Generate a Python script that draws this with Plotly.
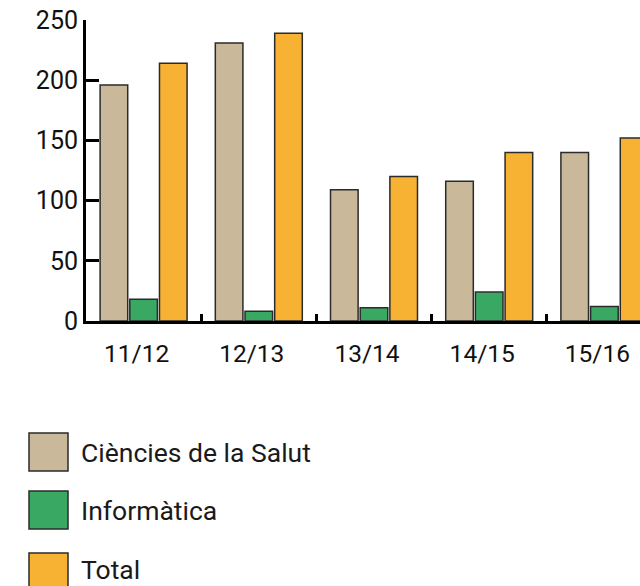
import plotly.graph_objects as go

categories = ["11/12", "12/13", "13/14", "14/15", "15/16"]
series_names = ["Ciències de la Salut", "Informàtica", "Total"]
ciencies = [196, 231, 109, 116, 140]
informatica = [18, 8, 11, 24, 12]
total = [214, 239, 120, 140, 152]
y_ticks = [0, 50, 100, 150, 200, 250]
colors = ["#C9B99A", "#38A862", "#F7B233"]

W, H = 640, 586
L, R, T, B = 86, 0, 20, 265
PW, PH = W - L - R, H - T - B

def px(x):
    return (x - L) / PW

def py(y):
    return (H - B - y) / PH

fig = go.Figure()
for name, vals, col in zip(series_names, [ciencies, informatica, total], colors):
    fig.add_trace(go.Bar(
        x=categories, y=vals, name=name,
        marker=dict(color=col, line=dict(color="#2b2b2b", width=1.5)),
        showlegend=False, hoverinfo="skip",
    ))

# legend drawn as layout decoration (large swatches as in the reference)
leg_tops = [433, 491, 553]
leg_text_y = [452, 510, 569]
for i, (name, col) in enumerate(zip(series_names, colors)):
    y0 = leg_tops[i]
    fig.add_shape(type="rect", xref="paper", yref="paper",
                  x0=px(29), x1=px(68), y0=py(y0), y1=py(y0 + 38),
                  fillcolor=col, line=dict(color="#2b2b2b", width=1.5))
    fig.add_annotation(xref="paper", yref="paper", x=px(79), y=py(leg_text_y[i]),
                       text=name, showarrow=False, xanchor="left", yanchor="middle",
                       font=dict(family="Roboto", size=26.5, color="#1a1a1a"))

fig.update_layout(
    width=W, height=H,
    margin=dict(l=L, r=R, t=T, b=B, pad=0, autoexpand=False),
    plot_bgcolor="white", paper_bgcolor="white",
    barmode="group", bargap=0.227, bargroupgap=0.07,
    font=dict(family="Roboto", size=24, color="#111111"),
    xaxis=dict(range=[-0.5, -0.5 + PW / 115.2], showline=True, linecolor="black", linewidth=3,
               ticks="inside", tickson="boundaries", ticklen=7, tickwidth=2.5,
               tickcolor="black", showgrid=False, ticklabelstandoff=9, ticklabelshift=-7,
               tickfont=dict(family="Roboto", size=24.5), automargin=False,
               ticklabeloverflow="allow", fixedrange=True),
    yaxis=dict(range=[0, 250], tickvals=y_ticks, showline=True, linecolor="black",
               linewidth=3, ticks="inside", ticklen=13, tickwidth=2.5, tickcolor="black",
               showgrid=False, zeroline=False, ticklabelstandoff=0,
               tickfont=dict(family="Roboto", size=25), automargin=False,
               ticklabeloverflow="allow", fixedrange=True),
)

fig.write_html("out.html", config={"displayModeBar": False},
               post_script="document.body.style.margin='0';document.body.style.overflow='hidden';")
